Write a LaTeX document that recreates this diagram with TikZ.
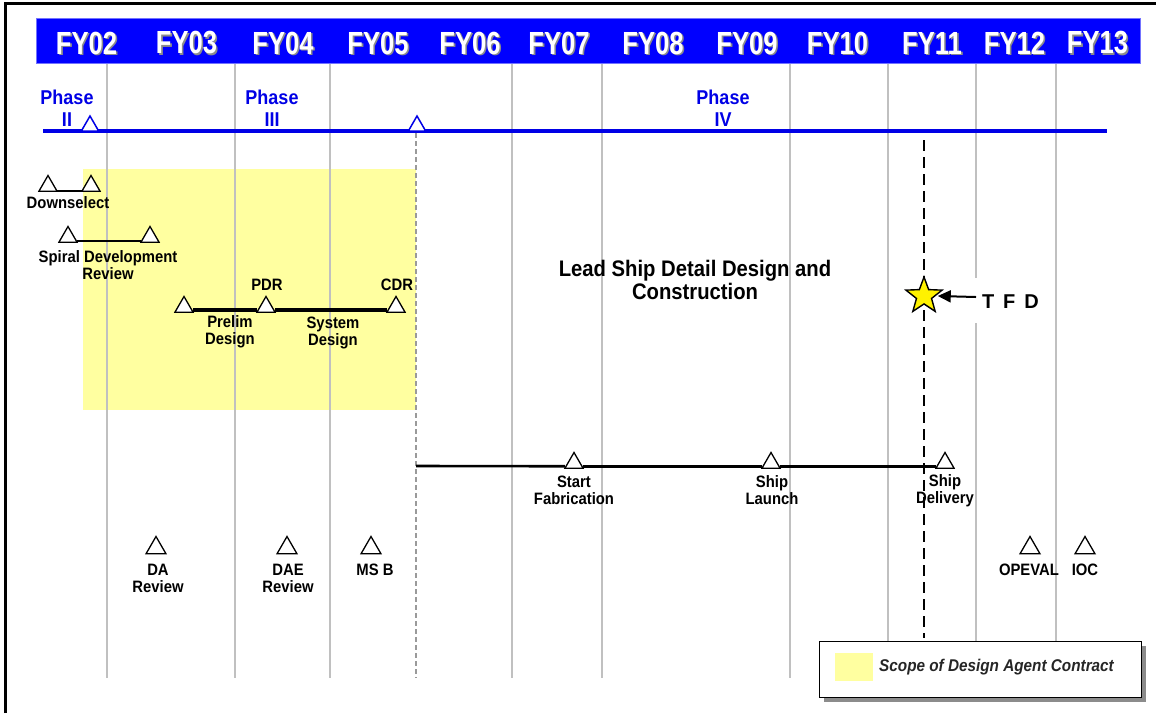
\documentclass[tikz,border=0pt]{standalone}
\usepackage{fontspec}
\setmainfont{Liberation Sans}
\newfontfamily\fyfont{Liberation Sans}[FakeStretch=0.8]
\newfontfamily\cnfont{Liberation Sans}[FakeStretch=0.9]
\usetikzlibrary{shapes.geometric,arrows.meta}
\definecolor{hdrblue}{RGB}{0,0,255}
\definecolor{phblue}{RGB}{0,0,230}
\definecolor{scope}{RGB}{255,255,160}
\definecolor{vgray}{RGB}{192,192,192}
\tikzset{
  tri/.style={regular polygon, regular polygon sides=3, minimum size=21pt, inner sep=0pt, outer sep=0pt, draw=black, fill=white, line width=1.3pt},
  btri/.style={tri, minimum size=23pt},
  ptri/.style={tri, draw=phblue, minimum size=20pt, line width=1.5pt},
  lbl/.style={font=\cnfont\bfseries\fontsize{16.5}{17}\selectfont, align=center, inner sep=0pt, text=black},
  biglbl/.style={font=\cnfont\bfseries\fontsize{22.5}{23}\selectfont, align=center, inner sep=0pt, text=black},
  phaselbl/.style={font=\cnfont\bfseries\fontsize{20}{22}\selectfont, text=phblue, align=center, inner sep=0pt},
  fylbl/.style={font=\fyfont\bfseries\fontsize{32}{32}\selectfont, inner sep=0pt},
  vline/.style={draw=vgray, line width=1.3pt},
  msline/.style={draw=black, line width=2pt},
}
\newcommand{\fyl}[2]{%
  \node[fylbl, text=black!45] (fys#2) at (#1+1.6,44.6) {FY#2};
  \node[fylbl, text=white] (fy#2) at (#1,43) {FY#2};}
\begin{document}
\begin{tikzpicture}[x=1pt,y=-1pt]
\useasboundingbox (0,0) rectangle (1156,713);
\fill[white] (0,0) rectangle (1156,713);
% outer frame
\draw[line width=3pt] (5,713) -- (5,3) -- (1156,3);
% scope area
\fill[scope] (83,169) rectangle (416,410);
% vertical grid lines
\foreach \x in {107,235,330,512,602,790,888,976,1056}
  \draw[vline] (\x,63) -- (\x,678);
\draw[draw=vgray!80!black, line width=1.2pt, dash pattern=on 5pt off 3pt] (416,133) -- (416,678);
% header
\fill[hdrblue] (36,18) rectangle (1140,63);
\draw[blue!55, line width=0.8pt] (36,18) rectangle (1140,63);
\fyl{86.5}{02}
\fyl{186.5}{03}
\fyl{283}{04}
\fyl{378}{05}
\fyl{470}{06}
\fyl{559}{07}
\fyl{653}{08}
\fyl{747}{09}
\fyl{837.5}{10}
\fyl{932}{11}
\fyl{1014.5}{12}
\fyl{1097.5}{13}
% phase line
\coordinate (pl0) at (43,131);
\coordinate (pl1) at (1107,131);
\draw[phblue, line width=4pt] (pl0) -- (pl1);
\node[ptri] (ph2) at (90,126) {};
\node[ptri] (ph4) at (417,126) {};
\node[phaselbl] (phII) at (67,108.5) {Phase\\II};
\node[phaselbl] (phIII) at (272,108.5) {Phase\\III};
\node[phaselbl] (phIV) at (723,108.5) {Phase\\IV};
% TFD dashed line
\coordinate (tfdtop) at (924,140);
\coordinate (tfdbot) at (924,638);
\draw[line width=2.2pt, dash pattern=on 11pt off 6pt] (tfdtop) -- (tfdbot);
% downselect
\node[tri] (d1) at (48,186) {};
\node[tri] (d2) at (91,186) {};
\draw[msline] (d1.corner 3) -- (d2.corner 2);
\node[lbl] (dsl) at (68,203) {Downselect};
% spiral development
\node[tri] (s1) at (68,237) {};
\node[tri] (s2) at (150,237) {};
\draw[line width=1.6pt] ([yshift=1pt]s1.corner 3) -- ([yshift=1pt]s2.corner 2);
\node[lbl] (sdl) at (108,265.5) {Spiral Development\\Review};
% prelim / system design
\node[tri] (p1) at (184,307) {};
\node[tri] (p2) at (266,307) {};
\node[tri] (p3) at (396,307) {};
\draw[line width=4pt] ([yshift=2pt]p1.corner 3) -- ([yshift=2pt]p2.corner 2);
\draw[line width=4pt] ([yshift=2pt]p2.corner 3) -- ([yshift=2pt]p3.corner 2);
\node[lbl] (pdr) at (267,285) {PDR};
\node[lbl] (cdr) at (397,285) {CDR};
\node[lbl] (pre) at (230,332) {Prelim\\Design};
\node[lbl] (sys) at (333,333) {System\\Design};
% lead ship
\node[biglbl] (lead) at (695,279.5) {Lead Ship Detail Design and\\Construction};
% fabrication line
\coordinate (fab0) at (416,466);
\node[tri] (st) at (574,463) {};
\node[tri] (sl) at (771,463) {};
\node[tri] (sd) at (945,463) {};
\draw[line width=2.6pt] (fab0) -- ([yshift=2pt]st.corner 2);
\draw[line width=2.6pt] ([yshift=2pt]st.corner 3) -- ([yshift=2pt]sl.corner 2);
\draw[line width=2.6pt] ([yshift=2pt]sl.corner 3) -- ([yshift=2pt]sd.corner 2);
\node[lbl] (stl) at (574,490.5) {Start\\Fabrication};
\node[lbl] (sll) at (772,490.5) {Ship\\Launch};
\node[lbl] (sdl2) at (945,490.5) {Ship\\Delivery};
% bottom milestones
\node[btri] (da) at (156,548) {};
\node[btri] (dae) at (287,548) {};
\node[btri] (msb) at (371,548) {};
\node[btri] (ope) at (1030,548) {};
\node[btri] (ioc) at (1085,548) {};
\node[lbl] (dal) at (158,578.5) {DA\\Review};
\node[lbl] (dael) at (288,578.5) {DAE\\Review};
\node[lbl] (msbl) at (375,570) {MS B};
\node[lbl] (opel) at (1029,570) {OPEVAL};
\node[lbl] (iocl) at (1085,570) {IOC};
% TFD
\fill[white] (958,278) rectangle (1050,323);
\node[star, star points=5, star point ratio=2.4, minimum size=38pt, inner sep=0pt, fill=yellow, draw=black, line width=1.4pt] (star) at (924,296) {};
\node[font=\bfseries\fontsize{20}{20}\selectfont, inner sep=0pt, outer sep=0pt, anchor=west] (tfd) at (982,302) {T\hspace{9pt}F\hspace{9pt}D};
\coordinate (tfdarr) at (976,297);
\draw[line width=2pt, -{Triangle[length=13pt,width=12pt]}] (tfdarr) -- ([xshift=2pt]star.east);
% legend
\fill[black!45] (824,646) rectangle (1146,702);
\node[draw=black, fill=white, line width=1.3pt, minimum width=322pt, minimum height=56pt, inner sep=0pt, anchor=north west] (legend) at (819,641) {};
\node[fill=scope, minimum width=38pt, minimum height=28pt, inner sep=0pt] (legsq) at (854,667) {};
\node[font=\cnfont\bfseries\itshape\fontsize{17}{17}\selectfont, anchor=west, inner sep=0pt, text=black!85] (legt) at (879,667) {Scope of Design Agent Contract};
\end{tikzpicture}
\end{document}
